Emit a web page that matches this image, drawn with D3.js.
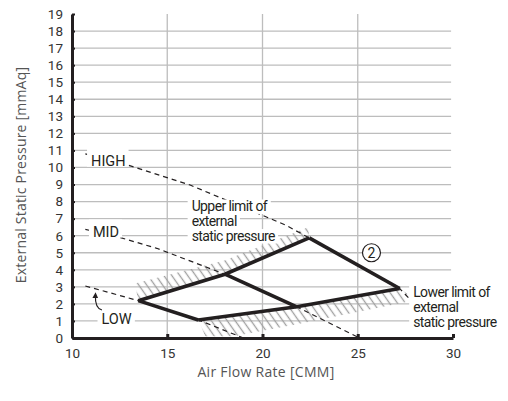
<!DOCTYPE html>
<html>
<head>
<meta charset="utf-8">
<script src="https://cdn.jsdelivr.net/npm/d3@7"></script>
<style>
  body { margin: 0; background: #fff; }
  text { font-family: "Open Sans", sans-serif; }
</style>
</head>
<body>
<div id="chart"></div>
<script>
// tick labels
const xTicks = [10, 15, 20, 25, 30]
const yTicks = [0, 1, 2, 3, 4, 5, 6, 7, 8, 9, 10, 11, 12, 13, 14, 15, 16, 17, 18, 19]
const xGrid = [15, 20, 25]
const yGrid = [1, 2, 3, 4, 5, 6, 7, 8, 9, 10, 11, 12, 13, 14, 15, 16, 17, 18]

// fan curves [air flow CMM, static pressure mmAq]
const highFan = [[10.7, 10.8], [12.9, 10.15], [16.2, 8.97], [21.2, 6.63], [22.45, 5.87], [27.2, 2.9], [27.8, 2.2]]
const midFan = [[10.7, 6.37], [12.5, 5.9], [14.45, 5.26], [18.03, 3.74], [21.8, 1.83], [25.0, 0.05]]
const lowFan = [[10.7, 3.05], [13.48, 2.19], [16.63, 1.06], [19.0, 0.0]]

// limits of external static pressure
const upperLimit = [[13.48, 2.19], [18.03, 3.74], [22.45, 5.87]]
const lowerLimit = [[16.63, 1.06], [21.8, 1.83], [27.2, 2.9]]

// hatched zones outside the limits
const upperHatch = [[13.48, 2.19], [18.03, 3.74], [22.45, 5.87], [22.4, 6.5], [18.0, 4.55], [13.3, 3.2]]
const lowerHatch = [[16.63, 1.06], [21.8, 1.83], [27.2, 2.9], [27.6, 2.6], [27.5, 2.1], [22.0, 0.85], [18.5, 0.1], [17.0, 0.1]]

const wrapper = d3.select("#chart")
const W = 508, H = 401
const margin = { top: 14, right: 55, bottom: 63, left: 72 }
const width = W - margin.left - margin.right,
  height = H - margin.top - margin.bottom

const svg = wrapper.append("svg").attr("width", W).attr("height", H)
const g = svg.append("g").attr("transform", "translate(" + margin.left + "," + margin.top + ")")

const x = d3.scaleLinear().domain([10, 30]).range([0, width])
const y = d3.scaleLinear().domain([0, 19]).range([height, 0])

const ink = "#231f20"

// hatch pattern
const defs = svg.append("defs")
defs.append("pattern")
  .attr("id", "hatch")
  .attr("patternUnits", "userSpaceOnUse")
  .attr("width", 6.5).attr("height", 6.5)
  .attr("patternTransform", "rotate(-35)")
  .append("line")
  .attr("x1", 3.25).attr("x2", 3.25).attr("y1", -1).attr("y2", 7.5)
  .attr("stroke", "#a0a0a0").attr("stroke-width", 1.3)

defs.append("marker")
  .attr("id", "arrow")
  .attr("viewBox", "0 0 10 10").attr("refX", 5).attr("refY", 5)
  .attr("markerWidth", 5).attr("markerHeight", 5)
  .attr("orient", "auto")
  .append("path").attr("d", "M0,0 L10,5 L0,10 z").attr("fill", ink)

// grid
g.append("g").selectAll("line").data(yGrid).join("line")
  .attr("x1", 0).attr("x2", x(29.9))
  .attr("y1", d => y(d)).attr("y2", d => y(d))
  .attr("stroke", "#bdbdbd").attr("stroke-width", 1.3)
g.append("g").selectAll("line").data(xGrid).join("line")
  .attr("x1", d => x(d)).attr("x2", d => x(d))
  .attr("y1", y(0)).attr("y2", y(19))
  .attr("stroke", "#bdbdbd").attr("stroke-width", 1.3)

const line = d3.line().x(p => x(p[0])).y(p => y(p[1]))

// hatch zones
g.selectAll(".hatch").data([upperHatch, lowerHatch]).join("path")
  .attr("class", "hatch")
  .attr("d", d => line(d) + "Z")
  .attr("fill", "url(#hatch)")

// dashed fan curves
g.selectAll(".fan").data([highFan, midFan, lowFan]).join("path")
  .attr("class", "fan")
  .attr("d", line)
  .attr("fill", "none").attr("stroke", ink)
  .attr("stroke-width", 1.2).attr("stroke-dasharray", "5,4")

// operating range (thick)
const solid = [upperLimit, lowerLimit, highFan.slice(4, 6), midFan.slice(3, 5), lowFan.slice(1, 3)]
g.selectAll(".range").data(solid).join("path")
  .attr("class", "range")
  .attr("d", line)
  .attr("fill", "none").attr("stroke", ink)
  .attr("stroke-width", 3.6).attr("stroke-linejoin", "miter").attr("stroke-linecap", "butt")

// labels with white background
function boxLabel(txt, px, py, size, spacing, padTop, padBot) {
  const t = g.append("text")
    .attr("x", px).attr("y", py)
    .style("font-family", "Roboto, sans-serif")
    .style("font-size", size + "px")
    .style("letter-spacing", spacing + "px")
    .attr("fill", ink)
    .text(txt)
  const b = t.node().getBBox()
  g.insert("rect", function () { return t.node() })
    .attr("x", b.x - 4).attr("width", b.width + 7)
    .attr("y", py - padTop).attr("height", padTop + padBot)
    .attr("fill", "#fff")
}

boxLabel("HIGH", x(11.0), y(10.1), 14.5, 0, 17, 1)
boxLabel("MID", x(11.1), y(5.95), 14.5, 0, 17, 1)
boxLabel("LOW", x(11.55), y(0.8), 14.5, 0, 17, 1)

const upperText = ["Upper limit of", "external", "static pressure"]
const lowerText = ["Lower limit of", "external", "static pressure"]
upperText.forEach((s, i) => boxLabel(s, x(16.28), y(7.45) + i * 14.8, 14, -0.6, 11.5, 3))
lowerText.forEach((s, i) => boxLabel(s, x(27.91), y(2.4) + i * 15, 14, -0.6, 11.5, 3))

// LOW arrow
g.append("path")
  .attr("d", "M" + x(11.57) + "," + y(1.64) + " Q" + x(11.2) + "," + y(1.75) + " " + x(11.23) + "," + y(2.5))
  .attr("fill", "none").attr("stroke", ink).attr("stroke-width", 1.2)
  .attr("marker-end", "url(#arrow)")

// circled number
g.append("circle").attr("cx", x(25.72)).attr("cy", y(5.0)).attr("r", 9)
  .attr("fill", "#fff").attr("stroke", ink).attr("stroke-width", 1.2)
g.append("text").attr("x", x(25.72)).attr("y", y(5.0)).attr("dy", "0.36em")
  .attr("text-anchor", "middle")
  .style("font-family", "Roboto, sans-serif").style("font-size", "14px")
  .attr("fill", ink).text("2")

// axes
const xAxis = g.append("g")
  .attr("transform", "translate(0," + height + ")")
  .call(d3.axisBottom(x).tickValues(xTicks).tickSize(-4).tickSizeOuter(0).tickPadding(10))
const yAxis = g.append("g")
  .call(d3.axisLeft(y).tickValues(yTicks).tickSize(-3).tickSizeOuter(0).tickPadding(9))

;[xAxis, yAxis].forEach(a => {
  a.select(".domain").attr("stroke", ink).attr("stroke-width", 3)
  a.selectAll(".tick text")
    .style("font-family", "Roboto, sans-serif").style("font-size", "13.5px")
    .attr("fill", "#333")
})
xAxis.selectAll(".tick line").attr("stroke", ink).attr("stroke-width", 3)
yAxis.selectAll(".tick line").attr("stroke", ink).attr("stroke-width", 2)

// axis titles
svg.append("text")
  .attr("x", 266).attr("y", 377)
  .attr("text-anchor", "middle")
  .style("font-size", "14px").style("letter-spacing", "0.3px")
  .attr("fill", "#555")
  .text("Air Flow Rate [CMM]")

svg.append("text")
  .attr("transform", "translate(26,175) rotate(-90)")
  .attr("text-anchor", "middle")
  .style("font-size", "14px").style("letter-spacing", "0.2px")
  .attr("fill", "#555")
  .text("External Static Pressure [mmAq]")
</script>
</body>
</html>
